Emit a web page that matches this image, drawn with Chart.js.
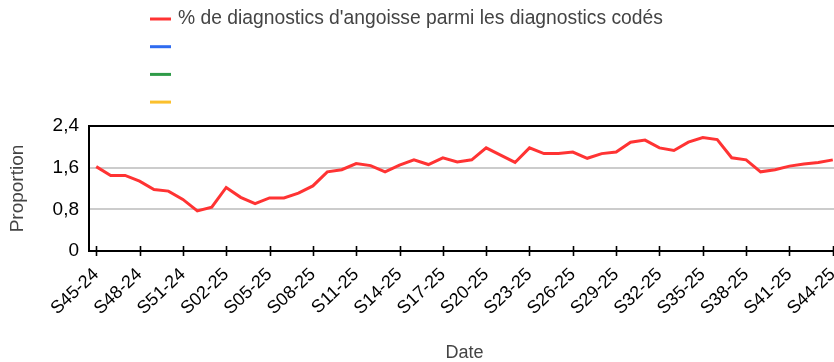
<!DOCTYPE html>
<html>
<head>
<meta charset="utf-8">
<script src="https://cdn.jsdelivr.net/npm/chart.js@4/dist/chart.umd.min.js"></script>
<style>
  html, body { margin: 0; padding: 0; background: #fff; overflow: hidden; width: 834px; height: 362px; }
  #wrap { width: 840px; height: 362px; }
</style>
</head>
<body>
<div id="wrap"><canvas id="c" width="840" height="362"></canvas></div>
<script>
// Weekly categories (ISO week - year)
const weeks = [
  "S45-24","S46-24","S47-24","S48-24","S49-24","S50-24","S51-24","S52-24",
  "S01-25","S02-25","S03-25","S04-25","S05-25","S06-25","S07-25","S08-25",
  "S09-25","S10-25","S11-25","S12-25","S13-25","S14-25","S15-25","S16-25",
  "S17-25","S18-25","S19-25","S20-25","S21-25","S22-25","S23-25","S24-25",
  "S25-25","S26-25","S27-25","S28-25","S29-25","S30-25","S31-25","S32-25",
  "S33-25","S34-25","S35-25","S36-25","S37-25","S38-25","S39-25","S40-25",
  "S41-25","S42-25","S43-25","S44-25"
];

// % of anxiety diagnoses among coded diagnoses
const anxietyShare = [
  1.62, 1.45, 1.45, 1.34, 1.18, 1.15, 0.99, 0.77,
  0.84, 1.22, 1.03, 0.91, 1.02, 1.02, 1.11, 1.25,
  1.52, 1.56, 1.68, 1.64, 1.52, 1.65, 1.75, 1.66,
  1.79, 1.71, 1.75, 1.98, 1.84, 1.70, 1.98, 1.87,
  1.87, 1.90, 1.78, 1.87, 1.90, 2.09, 2.13, 1.98,
  1.93, 2.09, 2.18, 2.14, 1.79, 1.75, 1.52, 1.56,
  1.63, 1.67, 1.70, 1.75
];

// Series names (the three extra series have no label and no values)
const seriesNames = [
  "% de diagnostics d'angoisse parmi les diagnostics codés",
  "", "", ""
];

// Y axis ticks
const yTicks = [0, 0.8, 1.6, 2.4];

const FONT = "'Liberation Sans', Arial, sans-serif";

// Vertical legend drawn above the plot
const legendColumn = {
  id: 'legendColumn',
  afterDraw(chart) {
    const ctx = chart.ctx;
    chart.data.datasets.forEach((ds, i) => {
      const y = 19 + i * 27.7;
      ctx.save();
      ctx.strokeStyle = ds.borderColor;
      ctx.lineWidth = 3;
      ctx.beginPath();
      ctx.moveTo(150, y);
      ctx.lineTo(171, y);
      ctx.stroke();
      ctx.fillStyle = '#444';
      ctx.font = '19.3px ' + FONT;
      ctx.textBaseline = 'middle';
      ctx.textAlign = 'left';
      ctx.fillText(ds.label, 178, y);
      ctx.restore();
    });
  }
};

// Top frame line and tick marks that cross the x axis
const frameAndTicks = {
  id: 'frameAndTicks',
  afterDatasetsDraw(chart) {
    const ctx = chart.ctx;
    const area = chart.chartArea;
    const xs = chart.scales.x;
    ctx.save();
    ctx.strokeStyle = '#000';
    ctx.lineWidth = 2;
    ctx.beginPath();
    ctx.moveTo(area.left - 1, area.top);
    ctx.lineTo(area.right, area.top);
    ctx.stroke();
    for (let i = 0; i < xs.ticks.length; i += 3) {
      const x = Math.round(xs.getPixelForTick(i)) + 0.5;
      ctx.beginPath();
      ctx.lineWidth = 1.6;
      ctx.moveTo(x, area.bottom - 5);
      ctx.lineTo(x, area.bottom + 5);
      ctx.stroke();
    }
    ctx.restore();
  }
};

const fmt = v => String(Math.round(v * 10) / 10).replace('.', ',');

new Chart(document.getElementById('c'), {
  type: 'line',
  data: {
    labels: weeks,
    datasets: [
      { label: seriesNames[0], data: anxietyShare, borderColor: '#ff3333', backgroundColor: '#ff3333',
        borderWidth: 3, pointRadius: 0, tension: 0, fill: false },
      { label: seriesNames[1], data: [], borderColor: '#2f6bf0', backgroundColor: '#2f6bf0', pointRadius: 0 },
      { label: seriesNames[2], data: [], borderColor: '#2e9b48', backgroundColor: '#2e9b48', pointRadius: 0 },
      { label: seriesNames[3], data: [], borderColor: '#fbc02d', backgroundColor: '#fbc02d', pointRadius: 0 }
    ]
  },
  options: {
    responsive: false,
    animation: false,
    layout: { padding: { top: 126, left: 0, right: 0, bottom: 0 } },
    plugins: { legend: { display: false }, tooltip: { enabled: false } },
    scales: {
      x: {
        type: 'category',
        offset: true,
        grid: { display: true, drawOnChartArea: false, drawTicks: true, tickLength: 5, tickColor: 'rgba(0,0,0,0)', offset: false },
        border: { display: true, color: '#000', width: 2 },
        ticks: {
          autoSkip: false,
          maxRotation: 43,
          minRotation: 43,
          padding: 8,
          color: '#000',
          font: { family: FONT, size: 18 },
          callback(val, idx) { return idx % 3 === 0 ? this.getLabelForValue(val) : ''; }
        },
        title: {
          display: true, text: 'Date', color: '#444',
          font: { family: FONT, size: 18, lineHeight: 1 },
          padding: { top: 0, bottom: 0 }
        },
        afterFit(scale) { scale.height = 111; scale.paddingRight = 0; }
      },
      y: {
        min: 0,
        max: 2.4,
        afterBuildTicks(scale) { scale.ticks = yTicks.map(v => ({ value: v })); },
        grid: { color: '#cccccc', lineWidth: 2, drawTicks: false },
        border: { display: true, color: '#000', width: 2 },
        ticks: {
          padding: 10,
          color: '#000',
          font: { family: FONT, size: 19 },
          callback: v => fmt(v)
        },
        title: {
          display: true, text: 'Proportion', color: '#444',
          font: { family: FONT, size: 19, lineHeight: 1 },
          padding: { top: 8, bottom: 0 }
        },
        afterFit(scale) { scale.width = 89; }
      }
    }
  },
  plugins: [legendColumn, frameAndTicks]
});
</script>
</body>
</html>
